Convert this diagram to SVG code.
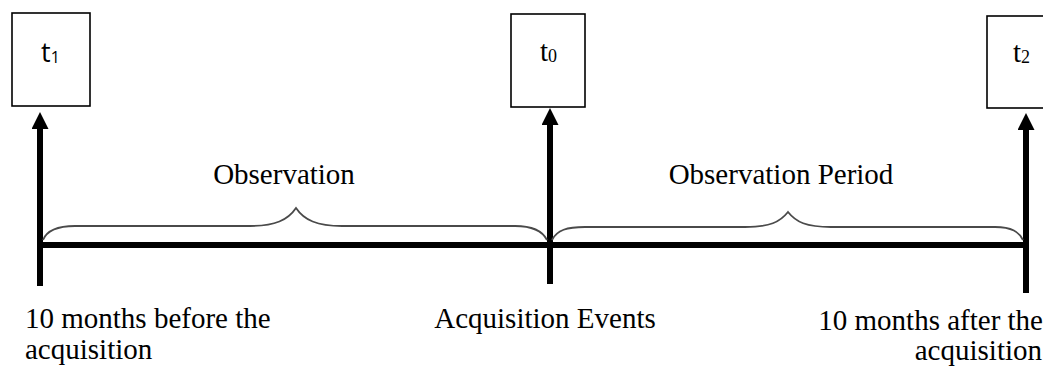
<svg xmlns="http://www.w3.org/2000/svg" width="1043" height="367" viewBox="0 0 1043 367">
<style>
.box{fill:#fff;stroke:#000;stroke-width:1.6}
.serif{font-family:"Liberation Serif","Times New Roman",serif;font-size:29px;fill:#000}
.sans{font-family:"Open Sans","Noto Sans","Liberation Sans",sans-serif;font-size:27px;fill:#000}
.sub{font-size:18px}
.sans .sub{font-size:16px}
.axis{stroke:#000;stroke-width:6;fill:none}
.brace{stroke:#4a4a4a;stroke-width:1.8;fill:none}
</style>
<defs>
<marker id="ah" markerUnits="userSpaceOnUse" markerWidth="17" markerHeight="17" viewBox="0 -8.5 17 17" refX="1" refY="0" orient="auto">
<path d="M0,-8.5 L17,0 L0,8.5 z" fill="#000"/>
</marker>
</defs>
<g id="connectors">
<line class="axis" x1="40" y1="245" x2="1029" y2="245"/>
<line class="axis" x1="40" y1="286" x2="40" y2="128" marker-end="url(#ah)"/>
<line class="axis" x1="550" y1="284" x2="550" y2="124" marker-end="url(#ah)"/>
<line class="axis" x1="1026" y1="293" x2="1026" y2="129" marker-end="url(#ah)"/>
<path class="brace" d="M43,240 C47,230 58,226 75,226 L250,226 C275,226 288,220 296,208 C304,220 317,226 342,226 L515,226 C532,226 542,230 547,240"/>
<path class="brace" d="M552,240 C557,230 567,227 585,227 L745,227 C770,227 780,222 788,212 C796,222 806,227 831,227 L995,227 C1012,227 1019,232 1023,240"/>
</g>
<g id="node-t1">
<rect class="box" x="12" y="13" width="78" height="93"/>
<text class="sans" x="41" y="62">t<tspan class="sub" dy="1">1</tspan></text>
</g>
<g id="node-t0">
<rect class="box" x="511" y="14" width="74" height="93"/>
<text class="serif" x="540" y="61">t<tspan class="sub" dy="1">0</tspan></text>
</g>
<g id="node-t2">
<rect class="box" x="987" y="16" width="70" height="92"/>
<text class="serif" x="1013" y="62">t<tspan class="sub" dy="1">2</tspan></text>
</g>
<g id="label-observation">
<text class="serif" x="284" y="184" text-anchor="middle">Observation</text>
</g>
<g id="label-observation-period">
<text class="serif" x="781" y="184" text-anchor="middle">Observation Period</text>
</g>
<g id="label-before">
<text class="serif" x="25" y="328">10 months before the</text>
<text class="serif" x="25" y="359">acquisition</text>
</g>
<g id="label-events">
<text class="serif" x="545" y="328" text-anchor="middle">Acquisition Events</text>
</g>
<g id="label-after">
<text class="serif" x="1043" y="330" text-anchor="end">10 months after the</text>
<text class="serif" x="1042" y="360" text-anchor="end">acquisition</text>
</g>
</svg>
